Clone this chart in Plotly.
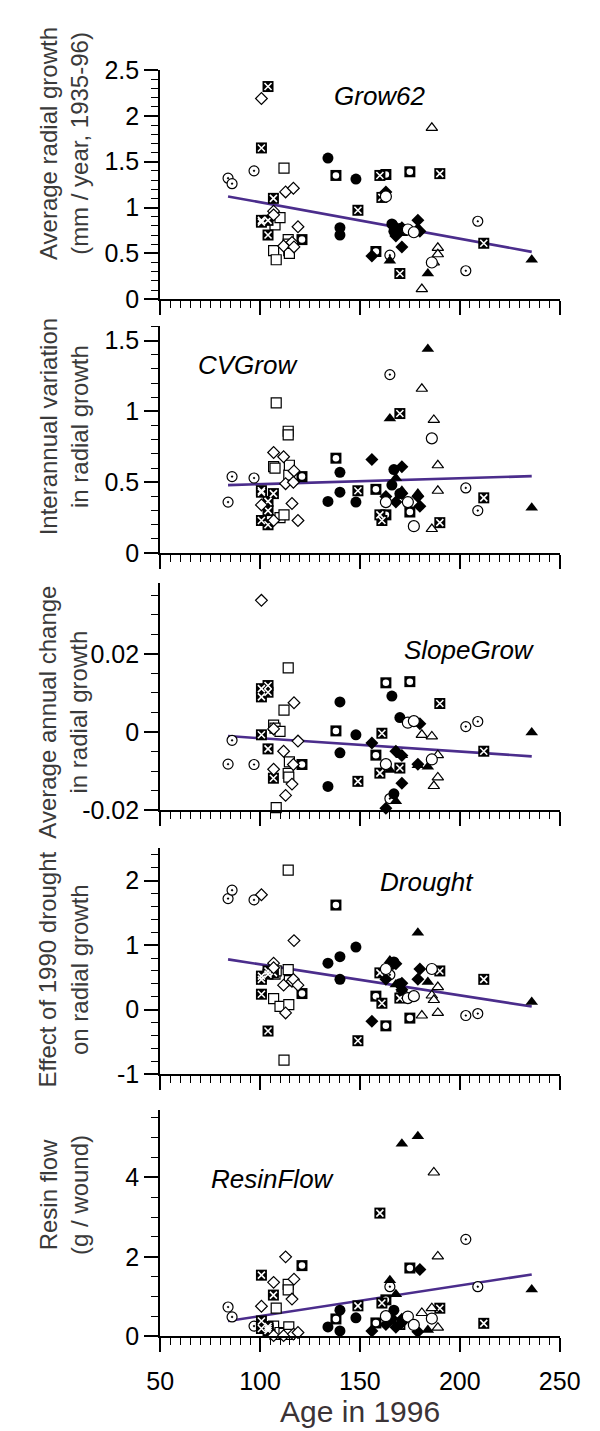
import numpy as np
import plotly.graph_objects as go

# ---------------- data ----------------
# marker group of each tree
group = (["cdot"] * 6 + ["fcirc"] * 7 + ["osq"] * 9 + ["bsq"] * 5 + ["xsq"] * 13 +
         ["odia"] * 9 + ["fdia"] * 7 + ["otri"] * 5 + ["ftri"] * 6 + ["ocirc"] * 4)

# age in 1996
age = [84, 86, 97, 165, 203, 209,
       134, 140, 140, 148, 166, 167, 170,
       106.8, 107.5, 108.1, 110, 112, 114.1, 114.1, 114.4, 114.7,
       121, 138, 158, 163, 175,
       100.7, 100.7, 100.7, 104, 104, 104, 106.7, 149, 160, 161, 170, 190, 212,
       100.7, 106.8, 106.8, 111.8, 112.8, 116, 116.7, 117, 119,
       156, 163, 168, 171, 171, 179, 180,
       181, 186, 187, 189, 189,
       165, 168, 171, 179, 184, 236,
       163, 174, 177, 186]

grow62 = [1.32, 1.26, 1.40, 0.48, 0.31, 0.85,
          1.54, 0.78, 0.70, 1.31, 0.82, 0.74, 0.77,
          0.53, 0.81, 0.43, 0.89, 1.43, 0.65, 0.60, 0.53, 0.50,
          0.65, 1.35, 0.52, 1.36, 1.39,
          1.65, 0.86, 0.84, 2.32, 0.86, 0.70, 1.10, 0.97, 1.35, 1.11, 0.28, 1.37, 0.61,
          2.19, 0.96, 0.92, 0.58, 1.17, 0.62, 1.21, 0.57, 0.79,
          0.47, 1.17, 0.69, 0.78, 0.57, 0.86, 0.74,
          0.11, 1.87, 0.40, 0.56, 0.49,
          0.42, 0.80, 0.72, 0.78, 0.28, 0.43,
          1.12, 0.76, 0.73, 0.40]

cvgrow = [0.36, 0.54, 0.53, 1.26, 0.46, 0.30,
          0.365, 0.57, 0.43, 0.36, 0.48, 0.59, 0.42,
          0.61, 0.60, 1.06, 0.25, 0.27, 0.86, 0.835, 0.55, 0.62,
          0.54, 0.67, 0.45, 0.27, 0.29,
          0.43, 0.23, 0.44, 0.365, 0.30, 0.20, 0.42, 0.44, 0.27, 0.23, 0.985, 0.215, 0.39,
          0.34, 0.71, 0.23, 0.68, 0.49, 0.35, 0.50, 0.58, 0.23,
          0.66, 0.40, 0.36, 0.61, 0.42, 0.40, 0.33,
          1.16, 0.17, 0.94, 0.62, 0.44,
          0.95, 0.53, 0.44, 0.42, 1.44, 0.32,
          0.36, 0.36, 0.19, 0.81]

slopegrow = [-0.0082, -0.0021, -0.0083, -0.0170, 0.0014, 0.0027,
             -0.0139, 0.0077, -0.0053, -0.0007, 0.0092, -0.0158, 0.0037,
             0.0018, 0.0010, -0.0193, 0.0002, 0.0056, 0.0164, -0.0106, -0.0115, -0.0076,
             -0.0083, 0.0003, -0.0059, 0.0126, 0.0129,
             0.0111, 0.0090, -0.0007, 0.0119, 0.0102, -0.0043, -0.0118, -0.0126, -0.0105, -0.0003, -0.0092, 0.0073, -0.0049,
             0.0337, 0.0008, -0.0095, -0.0049, -0.0162, -0.0133, -0.0083, 0.0075, -0.0023,
             -0.0028, -0.0195, -0.0049, -0.0131, -0.0060, -0.0082, 0.0021,
             -0.0007, -0.0011, -0.0138, -0.0059, -0.0116,
             -0.0097, -0.0177, -0.0059, -0.0085, -0.0089, -0.0001,
             -0.0082, 0.0024, 0.0028, -0.0070]

drought = [1.72, 1.85, 1.70, 0.54, -0.09, -0.06,
           0.72, 0.82, 0.47, 0.97, 0.70, 0.74, 0.40,
           0.17, 0.55, 0.60, 0.05, -0.78, 2.16, 0.62, 0.08, 0.45,
           0.25, 1.62, 0.21, -0.25, -0.13,
           0.52, 0.24, 0.47, 0.60, -0.33, 0.55, 0.57, -0.48, 0.57, 0.10, 0.18, 0.60, 0.47,
           1.78, 0.72, 0.65, 0.38, -0.05, 0.44, 0.47, 1.07, 0.38,
           -0.18, 0.47, 0.71, 0.41, 0.31, 0.47, 0.63,
           -0.09, 0.22, 0.15, 0.35, -0.05,
           0.76, 0.39, 0.31, 1.19, 0.43, 0.12,
           0.63, 0.18, 0.21, 0.63]

resinflow = [0.74, 0.49, 0.26, 1.25, 2.44, 1.25,
             0.24, 0.66, 0.14, 0.47, 0.43, 0.66, 0.36,
             0.26, 0.05, 0.71, 0.10, 0.08, 1.31, 1.17, 0.24, 0.05,
             1.78, 0.44, 0.34, 0.92, 1.72,
             1.54, 0.39, 0.20, 0.20, 0.25, 0.15, 1.04, 0.77, 3.10, 0.84, 0.30, 0.71, 0.33,
             0.76, 1.36, 0.02, 0.02, 2.00, 0.94, 0.06, 1.44, 0.10,
             0.14, 0.30, 0.23, 0.43, 0.35, 0.12, 1.68,
             0.59, 0.71, 4.12, 2.01, 0.22,
             1.41, 1.06, 4.84, 5.03, 0.16, 1.18,
             0.51, 0.50, 0.29, 0.45]

panel_names = ["Grow62", "CVGrow", "SlopeGrow", "Drought", "ResinFlow"]
panel_titles = ["Average radial growth<br>(mm / year, 1935-96)",
                "Interannual variation<br>in radial growth",
                "Average annual change<br>in radial growth",
                "Effect of 1990 drought<br>on radial growth",
                "Resin flow<br>(g / wound)"]
y_tickvals = [[0, 0.5, 1, 1.5, 2, 2.5], [0, 0.5, 1, 1.5], [-0.02, 0, 0.02], [-1, 0, 1, 2], [0, 2, 4]]
y_ticktext = [["0", "0.5", "1", "1.5", "2", "2.5"], ["0", "0.5", "1", "1.5"],
              ["-0.02", "0", "0.02"], ["-1", "0", "1", "2"], ["0", "2", "4"]]
x_tickvals = [50, 100, 150, 200, 250]
x_ticktext = ["50", "100", "150", "200", "250"]

# ---------------- styling / layout ----------------
series = [grow62, cvgrow, slopegrow, drought, resinflow]
W, H = 600, 1431
XL, XR = 146.7, 571.0
panel_px = [(49, 282.7), (310.5, 541.7), (572.7, 804.0), (842.7, 1073.3), (1109.3, 1340.7)]
y_ranges = [[0, 2.5], [0, 1.6], [-0.02, 0.038], [-1, 2.5], [0, 5.7]]
minor_dt = [0.1, 0.1, 0.005, 0.2, 0.5]
label_pos = [(160, 2.22), (94, 1.33), (204.8, 0.0211), (183.5, 1.98), (106.6, 3.96)]
title_yc = [124, 413, 704, 966, 1196]

FONT = "Liberation Sans, Arial, sans-serif"
LINE_COLOR = "#4b2d8c"

styles = {
    "cdot": [dict(symbol="circle-dot", size=10, color="white", line=dict(color="black", width=1.2))],
    "fcirc": [dict(symbol="circle", size=11, color="black", line=dict(color="black", width=0))],
    "osq": [dict(symbol="square", size=10, color="white", line=dict(color="black", width=1.2))],
    "bsq": [dict(symbol="square", size=11, color="black", line=dict(color="black", width=0)),
            dict(symbol="circle", size=6.5, color="white", line=dict(color="white", width=0))],
    "xsq": [dict(symbol="square", size=11, color="black", line=dict(color="black", width=0)),
            dict(symbol="x-thin-open", size=7, color="white", line=dict(color="white", width=1.6))],
    "odia": [dict(symbol="diamond", size=9, color="white", line=dict(color="black", width=1.2))],
    "fdia": [dict(symbol="diamond", size=10, color="black", line=dict(color="black", width=0))],
    "otri": [dict(symbol="triangle-up", size=10, color="white", line=dict(color="black", width=1.2))],
    "ftri": [dict(symbol="triangle-up", size=11, color="black", line=dict(color="black", width=0))],
    "ocirc": [dict(symbol="circle", size=11, color="white", line=dict(color="black", width=1.2))],
}


def yf(py):
    return 1 - py / H


age_arr = np.array(age, dtype=float)
grp_arr = np.array(group)

fig = go.Figure()
annotations = []
layout_axes = {}

for i, vals in enumerate(series):
    n = i + 1
    xa = "x" if n == 1 else f"x{n}"
    ya = "y" if n == 1 else f"y{n}"
    v = np.array(vals, dtype=float)

    # least-squares regression line over the age range
    b1, b0 = np.polyfit(age_arr, v, 1)
    xs = np.array([age_arr.min(), age_arr.max()])
    fig.add_trace(go.Scatter(x=xs, y=b0 + b1 * xs, mode="lines", xaxis=xa, yaxis=ya,
                             line=dict(color=LINE_COLOR, width=2.6), hoverinfo="skip",
                             showlegend=False, cliponaxis=False))

    for g, layers in styles.items():
        m = grp_arr == g
        for mk in layers:
            fig.add_trace(go.Scatter(x=age_arr[m], y=v[m], mode="markers", xaxis=xa, yaxis=ya,
                                     marker=mk, showlegend=False, cliponaxis=False))

    top, bot = panel_px[i]
    last = (i == len(series) - 1)
    layout_axes["xaxis" if n == 1 else f"xaxis{n}"] = dict(
        domain=[XL / W, XR / W], anchor=ya, range=[50, 250],
        showline=True, linecolor="black", linewidth=2,
        ticks="outside", ticklen=14, tickwidth=1.5, tickcolor="black",
        tickvals=x_tickvals, ticktext=x_ticktext, showticklabels=last,
        ticklabelstandoff=8,
        tickfont=dict(family=FONT, size=25, color="black"),
        minor=dict(ticks="outside", ticklen=7, tickwidth=1.2, tickcolor="black",
                   dtick=5, tick0=50, showgrid=False),
        showgrid=False, zeroline=False, fixedrange=True,
    )
    layout_axes["yaxis" if n == 1 else f"yaxis{n}"] = dict(
        domain=[yf(bot), yf(top)], anchor=xa, range=y_ranges[i],
        showline=True, linecolor="black", linewidth=2,
        ticks="outside", ticklen=14, tickwidth=1.5, tickcolor="black",
        tickvals=y_tickvals[i], ticktext=y_ticktext[i],
        tickfont=dict(family=FONT, size=25, color="black"),
        minor=dict(ticks="outside", ticklen=7, tickwidth=1.2, tickcolor="black",
                   dtick=minor_dt[i], tick0=0, showgrid=False),
        showgrid=False, zeroline=False, fixedrange=True,
    )

    lx, ly = label_pos[i]
    annotations.append(dict(x=lx, y=ly, xref=xa, yref=ya, text=f"<i>{panel_names[i]}</i>",
                            showarrow=False, font=dict(family=FONT, size=26, color="black")))
    annotations.append(dict(x=44 / W, y=yf(title_yc[i]), xref="paper", yref="paper",
                            text=panel_titles[i], textangle=-90, showarrow=False,
                            xanchor="center", yanchor="middle",
                            font=dict(family=FONT, size=24, color="#3a3a3a")))

annotations.append(dict(x=(XL + XR) / 2 / W, y=yf(1417), xref="paper", yref="paper",
                        text="Age in 1996", showarrow=False, xanchor="center", yanchor="middle",
                        font=dict(family=FONT, size=30, color="#3b3336")))

fig.update_layout(width=W, height=H, margin=dict(l=0, r=0, t=0, b=0),
                  paper_bgcolor="white", plot_bgcolor="white", showlegend=False,
                  annotations=annotations, **layout_axes)

fig.write_html("out.html")
